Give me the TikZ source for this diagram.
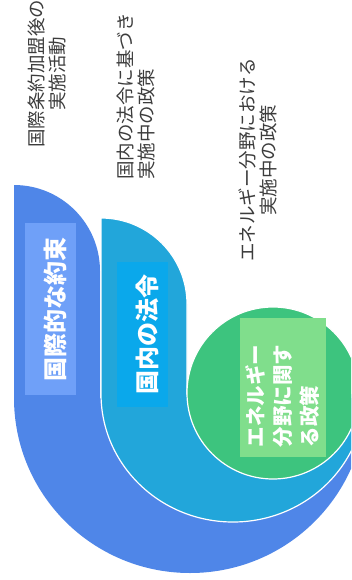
\documentclass[tikz,border=0pt]{standalone}
\usepackage{fontspec}
\setmainfont{Noto Sans CJK JP}
\definecolor{bandblue}{RGB}{79,134,232}
\definecolor{bandcyan}{RGB}{34,166,218}
\definecolor{bandgreen}{RGB}{61,196,126}
\definecolor{tagblue}{RGB}{111,160,248}
\definecolor{tagcyan}{RGB}{10,168,235}
\definecolor{taggreen}{RGB}{128,222,140}
\definecolor{notegray}{RGB}{60,60,60}
\begin{document}
\begin{tikzpicture}
  [x=1pt,y=-1pt,
   every node/.style={rotate=90,inner sep=0pt},
   note/.style={text=notegray,font=\fontsize{18.5}{21.5}\selectfont},
   tag/.style={text=white,font=\fontsize{24}{28}\selectfont\bfseries,minimum height=51pt,
     text height=27pt,text depth=0pt}]

  \clip (0,0) rectangle (351,580);

  \fill[bandblue] (100,271) arc[start angle=0,end angle=-90,radius=86]
    -- (14,398) arc[start angle=180,end angle=0,x radius=176,y radius=175]
    -- (100,398) -- cycle;
  \filldraw[fill=bandcyan,draw=white,line width=1.2pt] (187,394) -- (187,304)
    arc[start angle=0,end angle=-90,radius=86]
    -- (101,394) arc[start angle=180,end angle=0,x radius=132,y radius=128] -- cycle;
  \filldraw[fill=bandgreen,draw=white,line width=1.2pt] (273,393) circle[radius=86];

  \node[tag,fill=tagblue,minimum width=172pt] (intl) at (50.5,309) {国際的な約束};
  \node[tag,fill=tagcyan,minimum width=145pt] (dom) at (142.5,334.5) {国内の法令};
  \node[tag,fill=taggreen,font=\fontsize{20.5}{27}\selectfont\bfseries,
    text height=,text depth=,
    text width=119pt,inner xsep=10pt,minimum height=86pt,align=left]
    (ener) at (283,387.5) {エネルギー\\分野に関す\\る政策};

  \node[note,align=center] (intlnote) at (47,74) {国際条約加盟後の\\実施活動};
  \node[note,align=left,anchor=west] (domnote) at (136,180) {国内の法令に基づき\\実施中の政策};
  \node[note,align=center] (enernote) at (258,160) {エネルギー分野における\\実施中の政策};
\end{tikzpicture}
\end{document}
